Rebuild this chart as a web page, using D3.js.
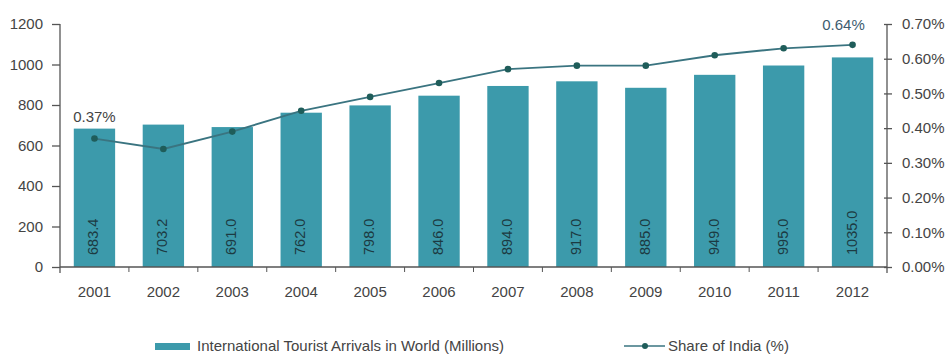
<!DOCTYPE html>
<html>
<head>
<meta charset="utf-8">
<script src="https://cdn.jsdelivr.net/npm/d3@7"></script>
<style>
  body { margin: 0; background: #fff; }
  svg text { font-family: "Liberation Sans", Arial, sans-serif; }
</style>
</head>
<body>
<svg id="chart"></svg>
<script>
// data
const years = ["2001", "2002", "2003", "2004", "2005", "2006", "2007", "2008", "2009", "2010", "2011", "2012"]
const arrivals = [683.4, 703.2, 691.0, 762.0, 798.0, 846.0, 894.0, 917.0, 885.0, 949.0, 995.0, 1035.0]
const indiaShare = [0.37, 0.34, 0.39, 0.45, 0.49, 0.53, 0.57, 0.58, 0.58, 0.61, 0.63, 0.64]
const leftTicks = [0, 200, 400, 600, 800, 1000, 1200]
const rightTicks = [0, 0.1, 0.2, 0.3, 0.4, 0.5, 0.6, 0.7]
const barName = "International Tourist Arrivals in World (Millions)"
const lineName = "Share of India (%)"

const width = 947, height = 356
const margin = {top: 24, right: 60, bottom: 89, left: 60}
const barColor = "#3c9aab"
const lineColor = "#3a7480"
const dotColor = "#1f5d5a"
const axisColor = "#555"
const textColor = "#444"
const fontFamily = "'Liberation Sans', Arial, sans-serif"

const svg = d3.select("#chart")
    .attr("width", width)
    .attr("height", height)

let xScale = d3.scaleBand()
    .domain(years)
    .range([margin.left, width - margin.right])
    .paddingInner(0.4)
    .paddingOuter(0.2)

let yLeft = d3.scaleLinear()
    .domain([0, 1200])
    .range([height - margin.bottom, margin.top])

let yRight = d3.scaleLinear()
    .domain([0, 0.7])
    .range(yLeft.range())

const baseY = yLeft(0)
const mid = i => xScale(years[i]) + xScale.bandwidth() / 2

// bars
svg.append("g").selectAll("rect")
    .data(arrivals)
    .join("rect")
    .attr("x", (d, i) => xScale(years[i]))
    .attr("y", d => yLeft(d))
    .attr("width", xScale.bandwidth())
    .attr("height", d => baseY - yLeft(d))
    .attr("fill", barColor)

// values inside the bars, written upwards
svg.append("g").selectAll("text")
    .data(arrivals)
    .join("text")
    .attr("transform", (d, i) => `translate(${mid(i) + 4},${baseY - 12}) rotate(-90)`)
    .attr("text-anchor", "start")
    .attr("font-size", 14.5)
    .attr("fill", "#1c3a42")
    .text(d => d.toFixed(1))

// left axis
svg.append("g")
    .attr("transform", `translate(${margin.left},0)`)
    .call(d3.axisLeft(yLeft).tickValues(leftTicks).tickSize(8).tickSizeOuter(0).tickPadding(9)
        .tickFormat(d3.format("d")))
    .call(g => g.select(".domain").attr("d", `M0,${margin.top}V${baseY + 6}`))
    .call(g => g.selectAll("path, line").attr("stroke", axisColor).attr("stroke-width", 1.3))
    .call(g => g.selectAll("text").attr("font-size", 15).attr("fill", textColor).attr("font-family", fontFamily))

// right axis
svg.append("g")
    .attr("transform", `translate(${width - margin.right},0)`)
    .call(d3.axisRight(yRight).tickValues(rightTicks).tickSize(5).tickSizeOuter(0).tickPadding(10)
        .tickFormat(d => d.toFixed(2) + "%"))
    .call(g => g.select(".domain").attr("d", `M0,${margin.top}V${baseY + 6}`))
    .call(g => g.selectAll("path, line").attr("stroke", axisColor).attr("stroke-width", 1.3))
    .call(g => g.selectAll(".tick line").attr("x1", -3))
    .call(g => g.selectAll("text").attr("font-size", 15).attr("fill", textColor).attr("font-family", fontFamily))

// bottom axis, ticks between the bars
const xAxis = svg.append("g")
    .attr("transform", `translate(0,${baseY})`)
xAxis.append("line")
    .attr("x1", margin.left).attr("x2", width - margin.right)
    .attr("stroke", axisColor).attr("stroke-width", 1.6)
xAxis.selectAll(".sep")
    .data(years.slice(1))
    .join("line")
    .attr("class", "sep")
    .attr("x1", d => xScale(d) - xScale.step() * xScale.paddingInner() / 2)
    .attr("x2", d => xScale(d) - xScale.step() * xScale.paddingInner() / 2)
    .attr("y1", 0).attr("y2", 5)
    .attr("stroke", axisColor)
xAxis.selectAll(".yr")
    .data(years)
    .join("text")
    .attr("class", "yr")
    .attr("x", d => xScale(d) + xScale.bandwidth() / 2)
    .attr("y", 30)
    .attr("text-anchor", "middle")
    .attr("font-size", 15)
    .attr("fill", textColor)
    .text(d => d)

// share line
const line = d3.line()
    .x((d, i) => mid(i))
    .y(d => yRight(d))

svg.append("path")
    .datum(indiaShare)
    .attr("d", line)
    .attr("fill", "none")
    .attr("stroke", lineColor)
    .attr("stroke-width", 1.8)

svg.append("g").selectAll("circle")
    .data(indiaShare)
    .join("circle")
    .attr("cx", (d, i) => mid(i))
    .attr("cy", d => yRight(d))
    .attr("r", 3.3)
    .attr("fill", dotColor)

// first and last labels
const lastI = indiaShare.length - 1
svg.append("text")
    .attr("x", mid(0))
    .attr("y", yRight(indiaShare[0]) - 17)
    .attr("text-anchor", "middle")
    .attr("font-size", 15)
    .attr("fill", textColor)
    .text(indiaShare[0].toFixed(2) + "%")
svg.append("text")
    .attr("x", mid(lastI) - 9)
    .attr("y", yRight(indiaShare[lastI]) - 15)
    .attr("text-anchor", "middle")
    .attr("font-size", 15)
    .attr("fill", "#3d5c70")
    .text(indiaShare[lastI].toFixed(2) + "%")

// legend
const legend = svg.append("g").attr("transform", "translate(0,346)")
legend.append("rect")
    .attr("x", 155).attr("y", -3).attr("width", 35).attr("height", 7)
    .attr("fill", barColor)
legend.append("text")
    .attr("x", 197).attr("y", 5)
    .attr("font-size", 15).attr("fill", textColor)
    .text(barName)
legend.append("line")
    .attr("x1", 624).attr("x2", 665).attr("y1", 0).attr("y2", 0)
    .attr("stroke", lineColor).attr("stroke-width", 1.6)
legend.append("circle")
    .attr("cx", 645).attr("cy", 0).attr("r", 3).attr("fill", dotColor)
legend.append("text")
    .attr("x", 668).attr("y", 5)
    .attr("font-size", 15).attr("fill", textColor)
    .text(lineName)
</script>
</body>
</html>
